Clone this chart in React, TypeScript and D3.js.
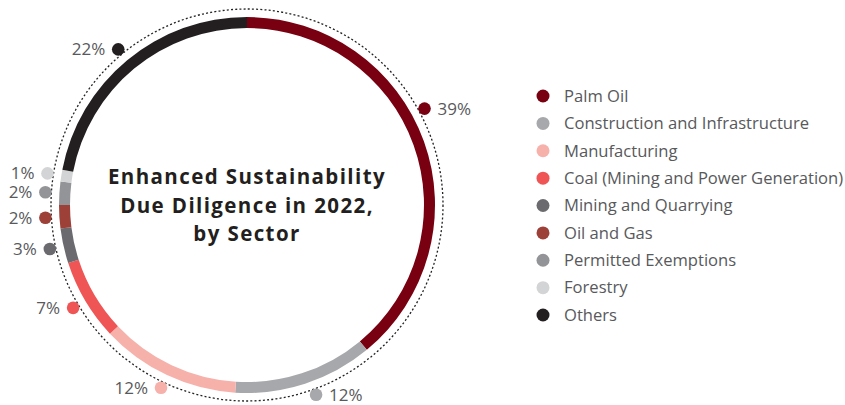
import React from "react";
import * as d3 from "d3";

const categories = [
  "Palm Oil",
  "Construction and Infrastructure",
  "Manufacturing",
  "Coal (Mining and Power Generation)",
  "Mining and Quarrying",
  "Oil and Gas",
  "Permitted Exemptions",
  "Forestry",
  "Others",
];
const values = [39, 12, 12, 7, 3, 2, 2, 1, 22];
const valueLabels = ["39%", "12%", "12%", "7%", "3%", "2%", "2%", "1%", "22%"];
const colors = [
  "#780010",
  "#a7a8ab",
  "#f6b1ab",
  "#ef5555",
  "#6b6b6f",
  "#9c4038",
  "#939497",
  "#d3d4d6",
  "#231f20",
];
const titleLines = ["Enhanced Sustainability", "Due Diligence in 2022,", "by Sector"];

// small angular nudges (degrees) applied to the label markers, as in the original layout
const labelNudgeDeg = [-8.7, -2, 0, 0, 0, 0, 0, 0, 0];

export default function App() {
  const W = 845, H = 405;
  const cx = 247, cy = 205;
  const rOuter = 188, rInner = 177;
  const rDotted = 196;
  const rLabel = 202;

  const data = categories.map((c, i) => ({ c, v: values[i], i }));
  const pie = d3.pie<any>().sort(null).value((d) => d.v).startAngle(0).endAngle(2 * Math.PI);
  const arcs = pie(data);
  const arc = d3.arc<any>().innerRadius(rInner).outerRadius(rOuter);

  const legendY = d3.scalePoint<string>().domain(categories).range([96, 315]);

  return (
    <svg width={W} height={H} style={{ position: "absolute", left: 0, top: 0, background: "#fff" }}
      fontFamily="'Open Sans', sans-serif">
      <g transform={`translate(${cx},${cy})`}>
        {arcs.map((a, i) => (
          <path key={i} d={arc(a) as string} fill={colors[i]} />
        ))}
        <circle r={rDotted} fill="none" stroke="#222" strokeWidth={1.3} strokeDasharray="2,2.2" />
        {arcs.map((a, i) => {
          const m = (a.startAngle + a.endAngle) / 2 + (labelNudgeDeg[i] * Math.PI) / 180;
          const x = rLabel * Math.sin(m);
          const y = -rLabel * Math.cos(m);
          const right = x > 0;
          return (
            <g key={i}>
              <circle cx={x} cy={y} r={6.3} fill={colors[i]} />
              <text x={x + (right ? 13 : -13)} y={y} dy="0.35em" textAnchor={right ? "start" : "end"}
                fontSize={17} fill="#58595b">{valueLabels[i]}</text>
            </g>
          );
        })}
        {titleLines.map((t, i) => (
          <text key={i} x={0} y={-21 + i * 28.7} textAnchor="middle" fontSize={20.5} fontWeight={700}
            letterSpacing="1.4" fill="#231f20">{t}</text>
        ))}
      </g>
      {categories.map((c, i) => (
        <g key={c} transform={`translate(0,${legendY(c)})`}>
          <circle cx={543} cy={0} r={6.5} fill={colors[i]} />
          <text x={564} y={0} dy="0.35em" fontSize={16.6} fill="#58595b">{c}</text>
        </g>
      ))}
    </svg>
  );
}
